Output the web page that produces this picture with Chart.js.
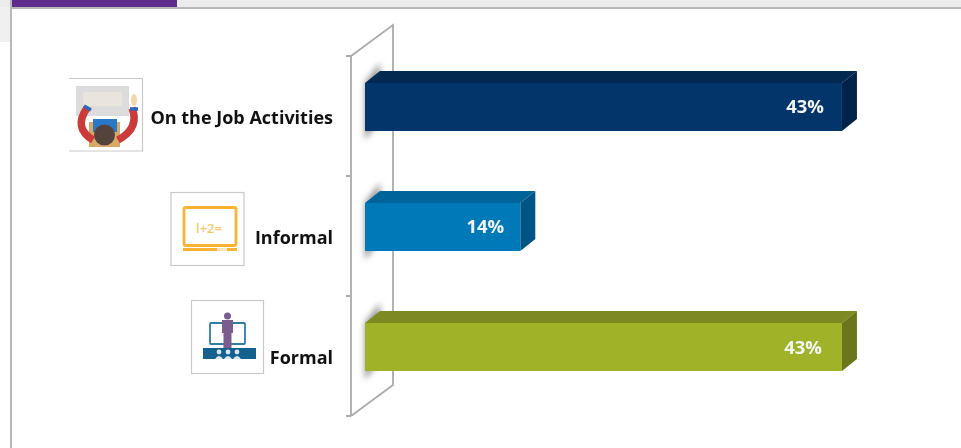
<!DOCTYPE html>
<html>
<head>
<meta charset="utf-8">
<script src="https://cdn.jsdelivr.net/npm/chart.js@4/dist/chart.umd.js"></script>
<style>
  html, body { margin: 0; padding: 0; background: #fff; overflow: hidden; }
  #wrap { position: relative; width: 961px; height: 448px; filter: blur(0.4px); }
  #wrap > * { position: absolute; }
  #myChart { left: 0; top: 0; }
  .strip { left: 0; top: 0; width: 961px; height: 7px; background: #ececec; }
  .stripline { left: 12px; top: 7px; width: 949px; height: 2px; background: #b9b9b9; }
  .tab { left: 12px; top: 0; width: 165px; height: 7px; background: #5f2b8c; }
  .side { left: 0; top: 7px; width: 10px; height: 35px; background: #f0f0f0; }
  .sideline { left: 10px; top: 0; width: 2px; height: 448px; background: #b9b9b9; }
  .icons { left: 0; top: 0; }
</style>
</head>
<body>
<div id="wrap">
  <div class="strip"></div>
  <div class="side"></div>
  <div class="stripline"></div>
  <div class="sideline"></div>
  <div class="tab"></div>
  <canvas id="myChart" width="961" height="448"></canvas>
  <svg class="icons" width="961" height="448">
    <!-- on the job -->
    <path d="M69 78.5H142.500V151H69" fill="#fff" stroke="#c9c9c9" stroke-width="1.2"/>
    <rect x="76" y="86" width="53" height="30" fill="#dcdcdc"/>
    <rect x="83" y="92" width="39" height="14" fill="#e9e4dc"/>
    <rect x="89" y="122" width="31" height="25" fill="#d9a866"/>
    <rect x="93" y="119" width="24" height="13" fill="#2a78c8"/>
    <path d="M87 108Q73 128 93 140M132 108Q140 128 118 140" fill="none" stroke="#cc3b3b" stroke-width="7.500"/>
    <path d="M84 106l7 4M130 109h8" stroke="#2f66b5" stroke-width="3.500"/>
    <ellipse cx="134" cy="100" rx="3" ry="6" fill="#f3d6a8"/>
    <circle cx="104.500" cy="135" r="10.500" fill="#54423c"/>
    <!-- informal -->
    <rect x="171" y="192.500" width="73" height="73" fill="#fff" stroke="#c9c9c9" stroke-width="1.2"/>
    <rect x="184" y="207.500" width="52" height="38" rx="2" fill="none" stroke="#f9b233" stroke-width="2.800"/>
    <rect x="183" y="248" width="54" height="3" fill="#f9b233"/>
    <rect x="217" y="248" width="10" height="3" fill="#fbe6b8"/>
    <text x="209" y="233" text-anchor="middle" font-family="Open Sans" font-weight="600" font-size="13" fill="#f6c86c">l+2=</text>
    <!-- formal -->
    <rect x="191.500" y="300.500" width="72" height="73" fill="#fff" stroke="#c9c9c9" stroke-width="1.2"/>
    <rect x="210" y="323" width="35" height="21" rx="1" fill="none" stroke="#2f7ea5" stroke-width="1.800"/>
    <circle cx="227.500" cy="316" r="3.500" fill="#7a5c8e"/>
    <path d="M222 320h11v13h-1.500v15h-8v-15H222z" fill="#7a5c8e"/>
    <rect x="203" y="348" width="53" height="11" fill="#14608f"/>
    <g fill="#d8e6ee"><circle cx="219" cy="352" r="2.400"/><circle cx="228" cy="352" r="2.400"/><circle cx="237" cy="352" r="2.400"/>
      <path d="M215 359q4-6 8 0zM224 359q4-6 8 0zM233 359q4-6 8 0z"/></g>
  </svg>
</div>
<script>
const categories = ['On the Job Activities', 'Informal', 'Formal'];
const shareValues = [43, 14, 43];
const frontColors = ['#03356a', '#0079b8', '#a0b228'];
const topColors = ['#02294f', '#00649a', '#7d8a22'];
const sideColors = ['#01234a', '#005585', '#6a751c'];
const labelInset = [18, 16, 20];
const labelNudge = [1, 1, 2];

const depthX = 15;
const depthY = 12;

// wall, ticks and the 3d faces behind every bar
const box3d = {
  id: 'box3d',
  beforeDatasetsDraw(chart) {
    const c = chart.ctx;
    const area = chart.chartArea;
    const wallX = area.left - 14;
    const wallTop = area.top + 9;
    const wallBottom = area.bottom + 9;

    c.save();
    c.strokeStyle = '#ababab';
    c.lineWidth = 1.8;
    c.beginPath();
    c.moveTo(wallX, wallTop);
    c.lineTo(wallX, wallBottom);
    c.moveTo(wallX, wallTop);
    c.lineTo(wallX + 42, wallTop - 31);
    c.lineTo(wallX + 42, wallBottom - 31);
    c.lineTo(wallX, wallBottom);
    for (let i = 0; i <= categories.length; i++) {
      const y = wallTop + i * (wallBottom - wallTop) / categories.length;
      c.moveTo(wallX - 5, y);
      c.lineTo(wallX, y);
    }
    c.stroke();
    c.restore();

    chart.getDatasetMeta(0).data.forEach((bar, i) => {
      const top = bar.y - bar.height / 2;
      const bottom = bar.y + bar.height / 2;

      // soft shadow on the wall
      c.save();
      c.filter = 'blur(3px)';
      c.fillStyle = '#8f8f8f';
      c.beginPath();
      c.moveTo(bar.base, top);
      c.lineTo(bar.base + depthX, top - depthY - 8);
      c.lineTo(bar.base + depthX, bottom - depthY);
      c.lineTo(bar.base, bottom + 9);
      c.closePath();
      c.fill();
      c.restore();

      c.fillStyle = topColors[i];
      c.beginPath();
      c.moveTo(bar.base, top);
      c.lineTo(bar.base + depthX, top - depthY);
      c.lineTo(bar.x + depthX, top - depthY);
      c.lineTo(bar.x, top);
      c.closePath();
      c.fill();

      c.fillStyle = sideColors[i];
      c.beginPath();
      c.moveTo(bar.x, top);
      c.lineTo(bar.x + depthX, top - depthY);
      c.lineTo(bar.x + depthX, bottom - depthY);
      c.lineTo(bar.x, bottom);
      c.closePath();
      c.fill();
    });
  },
  afterDatasetsDraw(chart) {
    const c = chart.ctx;
    c.save();
    c.fillStyle = '#f2f5f8';
    c.font = '700 18.5px "Open Sans"';
    c.textAlign = 'right';
    c.textBaseline = 'middle';
    chart.getDatasetMeta(0).data.forEach((bar, i) => {
      c.fillText(shareValues[i] + '%', bar.x - labelInset[i], bar.y + labelNudge[i]);
    });
    c.restore();
  }
};

new Chart(document.getElementById('myChart'), {
  type: 'bar',
  data: {
    labels: categories,
    datasets: [{
      data: shareValues,
      backgroundColor: frontColors,
      categoryPercentage: 0.4,
      barPercentage: 1
    }]
  },
  options: {
    indexAxis: 'y',
    responsive: false,
    animation: false,
    layout: { padding: { left: 0, top: 47, right: 41.4, bottom: 41 } },
    plugins: { legend: { display: false }, tooltip: { enabled: false } },
    scales: {
      x: { display: false, min: 0, max: 50 },
      y: {
        afterFit(scale) {
          scale.width = 365;
          scale.paddingTop = 0;
          scale.paddingBottom = 0;
        },
        grid: { display: false, drawTicks: false },
        border: { display: false },
        ticks: {
          color: '#111',
          padding: 32,
          labelOffset: 12,
          font: { family: 'Open Sans', size: 18, weight: '700' }
        }
      }
    }
  },
  plugins: [box3d]
});
</script>
</body>
</html>
